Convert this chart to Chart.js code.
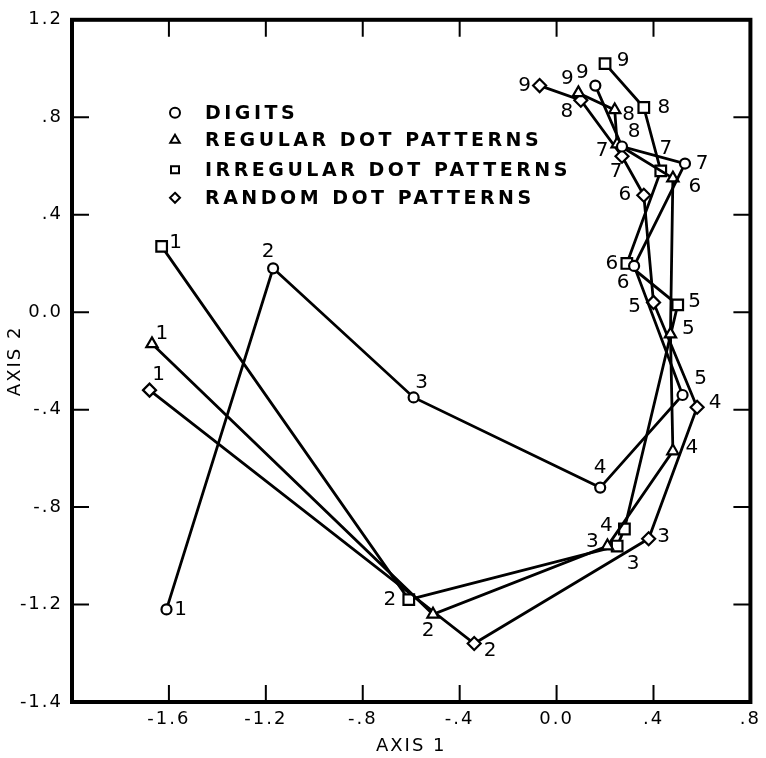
<!DOCTYPE html>
<html>
<head>
<meta charset="utf-8">
<script src="https://cdn.jsdelivr.net/npm/chart.js@4.4.0/dist/chart.umd.min.js"></script>
<style>
  html, body { margin: 0; padding: 0; background: #fff; }
  #wrap { width: 766px; height: 758px; }
</style>
</head>
<body>
<div id="wrap"><canvas id="mds"></canvas></div>
<script>
// stimulus numbers 1..9, same order for every series
const stimulusLabels = ['1', '2', '3', '4', '5', '6', '7', '8', '9'];

const digitsX = [-1.61, -1.17, -0.59, 0.18, 0.52, 0.32, 0.53, 0.27, 0.16];
const digitsY = [-1.22, 0.18, -0.35, -0.72, -0.34, 0.19, 0.61, 0.68, 0.93];

const regularX = [-1.67, -0.51, 0.21, 0.48, 0.47, 0.48, 0.25, 0.24, 0.09];
const regularY = [-0.13, -1.24, -0.96, -0.57, -0.09, 0.55, 0.69, 0.83, 0.90];

const irregularX = [-1.63, -0.61, 0.25, 0.28, 0.50, 0.29, 0.43, 0.36, 0.20];
const irregularY = [0.27, -1.18, -0.96, -0.89, 0.03, 0.20, 0.58, 0.84, 1.02];

const randomX = [-1.68, -0.34, 0.38, 0.58, 0.40, 0.36, 0.27, 0.10, -0.07];
const randomY = [-0.32, -1.36, -0.93, -0.39, 0.04, 0.48, 0.64, 0.87, 0.93];

const seriesNames = ['DIGITS', 'REGULAR DOT PATTERNS', 'IRREGULAR DOT PATTERNS', 'RANDOM DOT PATTERNS'];

const xTickValues = [-2.0, -1.6, -1.2, -0.8, -0.4, 0.0, 0.4, 0.8];
const xTickLabels = ['', '-1.6', '-1.2', '-.8', '-.4', '0.0', '.4', '.8'];
const yTickValues = [-1.6, -1.2, -0.8, -0.4, 0.0, 0.4, 0.8, 1.2];
const yTickLabels = ['-1.4', '-1.2', '-.8', '-.4', '0.0', '.4', '.8', '1.2'];

// where each number sits next to its marker (px offsets)
const digitsLabelPos = [[14, 0], [-5, -17], [8, -15], [0, -20], [18, -16], [-11, 17], [17, 0], [12, -15], [-13, -13]];
const regularLabelPos = [[10, -10], [-5, 17], [-15, -4], [19, -3], [18, -5], [22, 9], [-15, 7], [14, 5], [-11, -14]];
const irregularLabelPos = [[14, -4], [-19, 0], [16, 18], [-18, -3], [17, -3], [-15, 0], [5, -22], [20, 0], [18, -3]];
const randomLabelPos = [[9, -15], [16, 7], [15, -2], [18, -4], [-19, 4], [-19, 0], [-6, 16], [-14, 12], [-15, 0]];

const FONT = '"DejaVu Sans", sans-serif';

const toPoints = (xs, ys) => xs.map((x, i) => ({ x: x, y: ys[i] }));

function makeSet(name, xs, ys, style, radius, labelPos) {
  return {
    label: name,
    data: toPoints(xs, ys),
    showLine: true,
    borderColor: '#000',
    borderWidth: 2.8,
    pointStyle: style,
    pointRadius: radius,
    pointBackgroundColor: '#fff',
    pointBorderColor: '#000',
    pointBorderWidth: 2.2,
    labelPos: labelPos
  };
}

// draws a marker shape for the hand-placed legend
function marker(ctx, style, x, y, r) {
  ctx.beginPath();
  if (style === 'circle') {
    ctx.arc(x, y, r, 0, Math.PI * 2);
  } else if (style === 'triangle') {
    ctx.moveTo(x, y - r);
    ctx.lineTo(x + r * 0.95, y + r * 0.6);
    ctx.lineTo(x - r * 0.95, y + r * 0.6);
    ctx.closePath();
  } else if (style === 'rect') {
    ctx.rect(x - r * 0.8, y - r * 0.7, r * 1.6, r * 1.4);
  } else {
    ctx.moveTo(x, y - r);
    ctx.lineTo(x + r, y);
    ctx.lineTo(x, y + r);
    ctx.lineTo(x - r, y);
    ctx.closePath();
  }
  ctx.fillStyle = '#fff';
  ctx.fill();
  ctx.stroke();
}

const framePlugin = {
  id: 'frame',
  beforeDraw(chart) {
    chart.ctx.letterSpacing = '2px';
  },
  beforeDatasetsDraw(chart) {
    const { ctx, chartArea: a, scales: { x, y } } = chart;
    ctx.save();
    ctx.strokeStyle = '#000';
    ctx.lineWidth = 2;
    ctx.beginPath();
    xTickValues.forEach(v => {
      const px = x.getPixelForValue(v);
      ctx.moveTo(px, a.bottom); ctx.lineTo(px, a.bottom - 17);
      ctx.moveTo(px, a.top); ctx.lineTo(px, a.top + 17);
    });
    yTickValues.forEach(v => {
      const py = y.getPixelForValue(v);
      ctx.moveTo(a.left, py); ctx.lineTo(a.left + 17, py);
      ctx.moveTo(a.right, py); ctx.lineTo(a.right - 17, py);
    });
    ctx.stroke();
    ctx.lineWidth = 4;
    ctx.strokeRect(a.left, a.top, a.right - a.left, a.bottom - a.top);
    ctx.restore();
  },
  afterDatasetsDraw(chart) {
    const ctx = chart.ctx;
    ctx.save();
    ctx.fillStyle = '#000';
    ctx.font = '20px ' + FONT;
    ctx.letterSpacing = '0px';
    ctx.textAlign = 'center';
    ctx.textBaseline = 'middle';
    chart.data.datasets.forEach((ds, di) => {
      chart.getDatasetMeta(di).data.forEach((pt, i) => {
        const off = ds.labelPos[i];
        ctx.fillText(stimulusLabels[i], pt.x + off[0], pt.y + off[1]);
      });
    });

    // legend, upper left inside the frame
    const a = chart.chartArea;
    ctx.font = 'bold 19px ' + FONT;
    ctx.letterSpacing = '3.5px';
    ctx.textAlign = 'left';
    ctx.strokeStyle = '#000';
    ctx.lineWidth = 2;
    const rows = [93, 120, 150, 178];
    chart.data.datasets.forEach((ds, di) => {
      const ry = a.top + rows[di];
      marker(ctx, ds.pointStyle, a.left + 103, ry, 5);
      ctx.fillStyle = '#000';
      ctx.fillText(seriesNames[di], a.left + 133, ry + 1);
    });
    ctx.restore();
  }
};

const ctx = document.getElementById('mds').getContext('2d');

new Chart(ctx, {
  type: 'scatter',
  data: {
    datasets: [
      makeSet(seriesNames[0], digitsX, digitsY, 'circle', 5, digitsLabelPos),
      makeSet(seriesNames[1], regularX, regularY, 'triangle', 6.5, regularLabelPos),
      makeSet(seriesNames[2], irregularX, irregularY, 'rect', 7.5, irregularLabelPos),
      makeSet(seriesNames[3], randomX, randomY, 'rectRot', 6.5, randomLabelPos)
    ]
  },
  options: {
    responsive: true,
    maintainAspectRatio: false,
    animation: false,
    layout: { padding: { top: 13, right: 10, left: 0, bottom: 0 } },
    plugins: {
      legend: { display: false },
      tooltip: { enabled: false }
    },
    scales: {
      x: {
        type: 'linear',
        min: -2.0,
        max: 0.8,
        afterFit: s => { s.height = 56; },
        afterBuildTicks: s => { s.ticks = xTickValues.map(v => ({ value: v })); },
        grid: { display: false, drawTicks: false },
        border: { display: false },
        ticks: {
          color: '#000',
          padding: 7,
          maxRotation: 0,
          font: { family: FONT, size: 18 },
          callback: (v, i) => xTickLabels[i]
        },
        title: {
          display: true,
          text: 'AXIS 1',
          color: '#000',
          font: { family: FONT, size: 18 },
          padding: { bottom: 1, top: 0 }
        }
      },
      y: {
        type: 'linear',
        min: -1.6,
        max: 1.2,
        afterFit: s => { s.width = 72; },
        afterBuildTicks: s => { s.ticks = yTickValues.map(v => ({ value: v })); },
        grid: { display: false, drawTicks: false },
        border: { display: false },
        ticks: {
          color: '#000',
          padding: 9,
          font: { family: FONT, size: 18 },
          callback: (v, i) => yTickLabels[i]
        },
        title: {
          display: true,
          text: 'AXIS 2',
          color: '#000',
          font: { family: FONT, size: 18 },
          padding: { top: 5, bottom: 0 }
        }
      }
    }
  },
  plugins: [framePlugin]
});
</script>
</body>
</html>
